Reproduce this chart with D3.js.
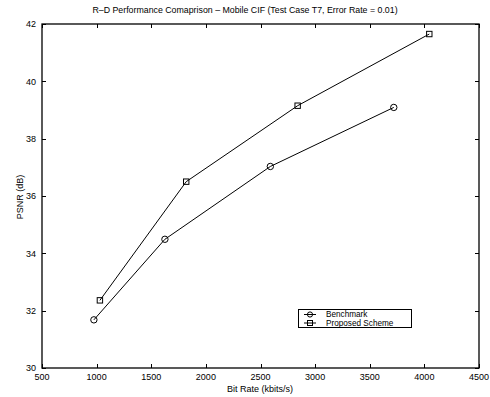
<!DOCTYPE html>
<html><head><meta charset="utf-8">
<script src="https://cdn.jsdelivr.net/npm/d3@7"></script>
<style>body{margin:0;background:#fff}svg{display:block}text{font-family:"Liberation Sans",Arial,sans-serif;fill:#000}</style>
</head><body><svg id="c" width="490" height="397"></svg>
<script>
const title = "R\u2013D Performance Comaprison \u2013 Mobile CIF (Test Case T7, Error Rate = 0.01)";
const xLabel = "Bit Rate (kbits/s)";
const yLabel = "PSNR (dB)";
const seriesNames = ["Benchmark", "Proposed Scheme"];
const benchRate = [975, 1625, 2590, 3720];
const benchPsnr = [31.68, 34.49, 37.03, 39.09];
const propRate = [1030, 1820, 2840, 4045];
const propPsnr = [32.36, 36.50, 39.15, 41.65];
const xTicks = [500, 1000, 1500, 2000, 2500, 3000, 3500, 4000, 4500];
const yTicks = [30, 32, 34, 36, 38, 40, 42];

const svg = d3.select("#c");
const L = 42, R = 479, T = 24, B = 368;
const x = d3.scaleLinear().domain([500, 4500]).range([L, R]);
const y = d3.scaleLinear().domain([30, 42]).range([B, T]);

const fs = 9;
const tk = 4;
const g = svg.append("g").attr("stroke", "#000").attr("stroke-width", 1);
xTicks.forEach(v => {
  const px = Math.round(x(v)) + 0.5;
  g.append("line").attr("x1", px).attr("x2", px).attr("y1", B).attr("y2", B - tk);
  g.append("line").attr("x1", px).attr("x2", px).attr("y1", T).attr("y2", T + tk);
});
yTicks.forEach(v => {
  const py = Math.round(y(v)) + 0.5;
  g.append("line").attr("x1", L).attr("x2", L + tk).attr("y1", py).attr("y2", py);
  g.append("line").attr("x1", R).attr("x2", R - tk).attr("y1", py).attr("y2", py);
});
svg.append("rect").attr("x", L).attr("y", T).attr("width", R - L).attr("height", B - T)
  .attr("fill", "none").attr("stroke", "#000").attr("stroke-width", 1.3);

svg.append("g").selectAll("text").data(xTicks).join("text")
  .attr("x", d => x(d)).attr("y", 380).attr("text-anchor", "middle")
  .attr("font-size", fs).text(d => d);
svg.append("g").selectAll("text").data(yTicks).join("text")
  .attr("x", 36).attr("y", d => y(d) + 3.2).attr("text-anchor", "end")
  .attr("font-size", fs).text(d => d);

svg.append("text").attr("x", 260).attr("y", 392).attr("text-anchor", "middle").attr("font-size", fs).text(xLabel);
svg.append("text").attr("transform", "translate(23,197) rotate(-90)").attr("text-anchor", "middle").attr("font-size", fs).text(yLabel);
svg.append("text").attr("x", 245).attr("y", 13).attr("text-anchor", "middle").attr("font-size", 8.8).text(title);

const line = d3.line().x(d => x(d[0])).y(d => y(d[1]));
const bench = benchRate.map((r, i) => [r, benchPsnr[i]]);
const prop = propRate.map((r, i) => [r, propPsnr[i]]);

[bench, prop].forEach(data => {
  svg.append("path").datum(data).attr("d", line).attr("fill", "none").attr("stroke", "#000").attr("stroke-width", 1);
});
svg.append("g").selectAll("circle").data(bench).join("circle")
  .attr("cx", d => x(d[0])).attr("cy", d => y(d[1])).attr("r", 3.2)
  .attr("fill", "none").attr("stroke", "#000").attr("stroke-width", 1);
svg.append("g").selectAll("rect").data(prop).join("rect")
  .attr("x", d => x(d[0]) - 2.7).attr("y", d => y(d[1]) - 2.7).attr("width", 5.4).attr("height", 5.4)
  .attr("fill", "none").attr("stroke", "#000").attr("stroke-width", 1);

// legend
const lg = svg.append("g");
lg.append("rect").attr("x", 298.5).attr("y", 309.5).attr("width", 113).attr("height", 18)
  .attr("fill", "#fff").attr("stroke", "#000").attr("stroke-width", 1);
seriesNames.forEach((n, i) => {
  const ly = 314.5 + i * 8.5;
  lg.append("line").attr("x1", 304).attr("x2", 316).attr("y1", ly).attr("y2", ly).attr("stroke", "#000");
  if (i === 0) lg.append("circle").attr("cx", 310).attr("cy", ly).attr("r", 2.6).attr("fill", "none").attr("stroke", "#000");
  else lg.append("rect").attr("x", 307.5).attr("y", ly - 2.5).attr("width", 5).attr("height", 5).attr("fill", "none").attr("stroke", "#000");
  lg.append("text").attr("x", 326).attr("y", ly + 2.8).attr("font-size", 8.2).text(n);
});
</script></body></html>
